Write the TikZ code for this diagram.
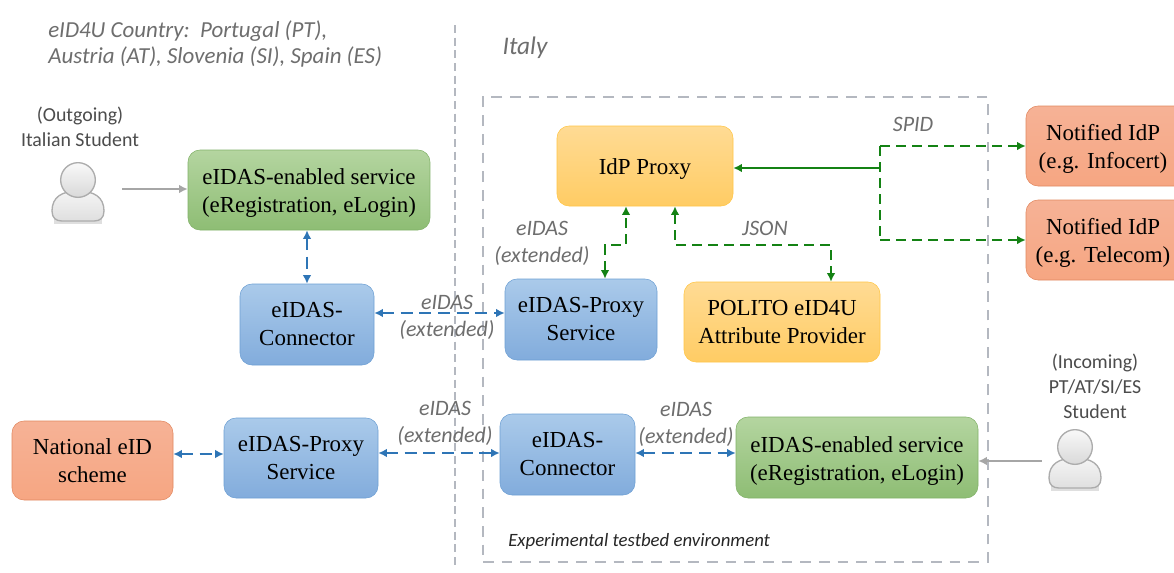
\documentclass[tikz,border=0pt]{standalone}
\usepackage{fontspec}
\setmainfont{Liberation Serif}
\newfontfamily\labelfont{Carlito}
\usetikzlibrary{arrows.meta}
\definecolor{labelgrey}{HTML}{6E6E6E}
\definecolor{framegrey}{HTML}{B4B8C0}
\definecolor{linkblue}{HTML}{2E75B6}
\definecolor{linkgreen}{HTML}{148214}
\newcommand{\lowtext}{\rule{0pt}{17pt}}
\tikzset{
  box/.style={rounded corners=9pt, draw, inner sep=0pt, align=center, text=black,
    font=\fontsize{17.2}{21}\selectfont},
  greenbox/.style={box, top color={rgb,255:red,180;green,213;blue,160}, bottom color={rgb,255:red,142;green,189;blue,116}, draw={rgb,255:red,130;green,178;blue,105}},
  bluebox/.style={box, top color={rgb,255:red,170;green,202;blue,234}, bottom color={rgb,255:red,130;green,172;blue,220}, draw={rgb,255:red,110;green,160;blue,212}},
  yellowbox/.style={box, top color={rgb,255:red,255;green,219;blue,148}, bottom color={rgb,255:red,255;green,204;blue,100}, draw={rgb,255:red,255;green,198;blue,70}},
  redbox/.style={box, top color={rgb,255:red,246;green,178;blue,150}, bottom color={rgb,255:red,246;green,166;blue,130}, draw={rgb,255:red,226;green,136;blue,96}},
  tag/.style={inner sep=0pt, align=center, text=labelgrey,
    font=\labelfont\itshape\fontsize{16.5}{20.2}\selectfont},
  who/.style={inner sep=0pt, align=center, text=black!70,
    font=\labelfont\fontsize{14.9}{18.6}\selectfont},
  bluelink/.style={{Latex[length=6.5pt,width=6.5pt]}-{Latex[length=6.5pt,width=6.5pt]}, draw=linkblue, line width=2pt, dash pattern=on 9pt off 5pt},
  greenlink/.style={draw=linkgreen, line width=1.9pt, dash pattern=on 7.5pt off 4.5pt},
  greytip/.style={-{Latex[length=6.5pt,width=6.5pt]}, draw=gray!70, line width=1.6pt},
  frame/.style={draw=framegrey, line width=1.8pt, dash pattern=on 8pt off 6pt},
  person/.pic={
    \fill[gray!25] (-24,16) -- (24,16) -- (24,24) -- (-24,24) -- cycle;
    \draw[gray!65, line width=1pt, top color=gray!8, bottom color=gray!25]
      (-26,11) .. controls (-26,-3) and (-16,-9) .. (0,-9)
      .. controls (16,-9) and (26,-3) .. (26,11)
      .. controls (26,18) and (22,21) .. (16,21) -- (-16,21)
      .. controls (-22,21) and (-26,18) .. (-26,11) -- cycle;
    \draw[gray!65, line width=1pt, top color=gray!5, bottom color=gray!30] (0,-20) circle[radius=13pt];
  }
}
\begin{document}
\begin{tikzpicture}[x=.75pt, y=-.75pt]
\clip (0,0) rectangle (1174,572);
\fill[white] (0,0) rectangle (1174,572);

\coordinate (splittop) at (455,25);
\coordinate (splitbot) at (455,568);
\draw[frame, line width=1.3pt, dash pattern=on 6pt off 3.5pt] (splittop) -- (splitbot);
\node[frame, minimum width=378.75pt, minimum height=348.75pt, inner sep=0pt] (testbed) at (735.5,329.5){};

\node[greenbox, minimum width=181.5pt, minimum height=60pt] (enabledL) at (309,190){\lowtext eIDAS-enabled service\\(eRegistration, eLogin)};
\node[bluebox, minimum width=100.5pt, minimum height=60.75pt] (connectorL) at (307,324.5){eIDAS-\\Connector};
\node[bluebox, minimum width=115.5pt, minimum height=60pt] (proxyL) at (301,458){eIDAS-Proxy\\Service};
\node[redbox, minimum width=120.75pt, minimum height=59.25pt] (natid) at (92.5,460.5){National eID\\scheme};
\node[yellowbox, minimum width=132pt, minimum height=60pt] (idpproxy) at (645,166){\lowtext IdP Proxy};
\node[bluebox, minimum width=114pt, minimum height=60.75pt] (proxyR) at (581,319.5){eIDAS-Proxy\\Service};
\node[yellowbox, minimum width=147pt, minimum height=60pt] (polito) at (782,322){POLITO eID4U\\Attribute Provider};
\node[bluebox, minimum width=101.25pt, minimum height=60.75pt] (connectorR) at (567.5,454.5){eIDAS-\\Connector};
\node[greenbox, minimum width=181.5pt, minimum height=60.75pt] (enabledR) at (857,457.5){\lowtext eIDAS-enabled service\\(eRegistration, eLogin)};
\node[redbox, minimum width=120pt, minimum height=60pt] (infocert) at (1106,146){};
\node[redbox, minimum width=120pt, minimum height=60pt] (telecom) at (1106,240){};
\node[inner sep=0pt, align=center, font=\fontsize{17.2}{21}\selectfont] (infocerttext) at (1103,149){Notified IdP\\(e.g. Infocert)};
\node[inner sep=0pt, align=center, font=\fontsize{17.2}{21}\selectfont] (telecomtext) at (1103,243){Notified IdP\\(e.g. Telecom)};

\pic at (78,200) {person};
\pic at (1075,467) {person};
\node[inner sep=0pt, minimum width=39pt, minimum height=10pt] (studentL) at (96,189){};
\node[inner sep=0pt, minimum width=39pt, minimum height=10pt] (studentR) at (1068,461){};

\draw[greytip](studentL.east) -- (enabledL.west |- studentL.east);
\draw[greytip](studentR.west) -- (enabledR.east |- studentR.west);
\draw[bluelink](enabledL.south -| connectorL.north) -- (connectorL.north);
\draw[bluelink](connectorL.east |- 0,313) -- (proxyR.west |- 0,313);
\draw[bluelink](natid.east |- 0,454) -- (proxyL.west |- 0,454);
\draw[bluelink](proxyL.east |- 0,453) -- (connectorR.west |- 0,453);
\draw[bluelink](connectorR.east |- 0,453) -- (enabledR.west |- 0,453);

\coordinate (spidjoin) at (880,168);
\coordinate (proxyjoin) at (605,245);
\coordinate (proxybend) at (626,245);
\coordinate (jsonjoin) at (675,245);
\coordinate (jsonbend) at (831,245);
\draw[draw=linkgreen, line width=2.1pt, -{Latex[length=6.5pt,width=6.5pt]}](spidjoin) -- (idpproxy.east |- spidjoin);
\draw[greenlink, -{Latex[length=6.5pt,width=6.5pt]}](spidjoin |- infocert.west) -- (infocert.west);
\draw[greenlink, -{Latex[length=6.5pt,width=6.5pt]}](spidjoin |- telecom.west) -- (telecom.west);
\draw[greenlink](spidjoin |- infocert.west) -- (spidjoin |- telecom.west);
\draw[greenlink, {Latex[length=6.5pt,width=6.5pt]}-{Latex[length=6.5pt,width=6.5pt]}](proxyR.north -| proxyjoin) -- (proxyjoin) -- (proxybend) -- (idpproxy.south -| proxybend);
\draw[greenlink, {Latex[length=6.5pt,width=6.5pt]}-{Latex[length=6.5pt,width=6.5pt]}](idpproxy.south -| jsonjoin) -- (jsonjoin) -- (jsonbend) -- (polito.north -| jsonbend);

\node[tag, anchor=north west, align=left, font=\labelfont\itshape\fontsize{17.2}{20.2}\selectfont] (countries) at (48,20){eID4U Country:\ \ Portugal (PT),\\Austria (AT), Slovenia (SI), Spain (ES)};
\node[tag, font=\labelfont\itshape\fontsize{19}{22}\selectfont] (italy) at (525,48){Italy};
\node[who] (outgoing) at (80,127){(Outgoing)\\Italian Student};
\node[who] (incoming) at (1095,386){(Incoming)\\PT/AT/SI/ES\\Student};
\node[tag] (spid) at (913,124){SPID};
\node[tag] (json) at (765,228){JSON};
\node[tag] (extA) at (542,243){eIDAS\\(extended)};
\node[tag] (extB) at (447,317){eIDAS\\(extended)};
\node[tag] (extC) at (445,423){eIDAS\\(extended)};
\node[tag] (extD) at (686,424){eIDAS\\(extended)};
\node[inner sep=0pt, anchor=west, text=black!85, font=\labelfont\itshape\fontsize{14.1}{15}\selectfont] (testbedtext) at (508,541){Experimental testbed environment};
\end{tikzpicture}
\end{document}
